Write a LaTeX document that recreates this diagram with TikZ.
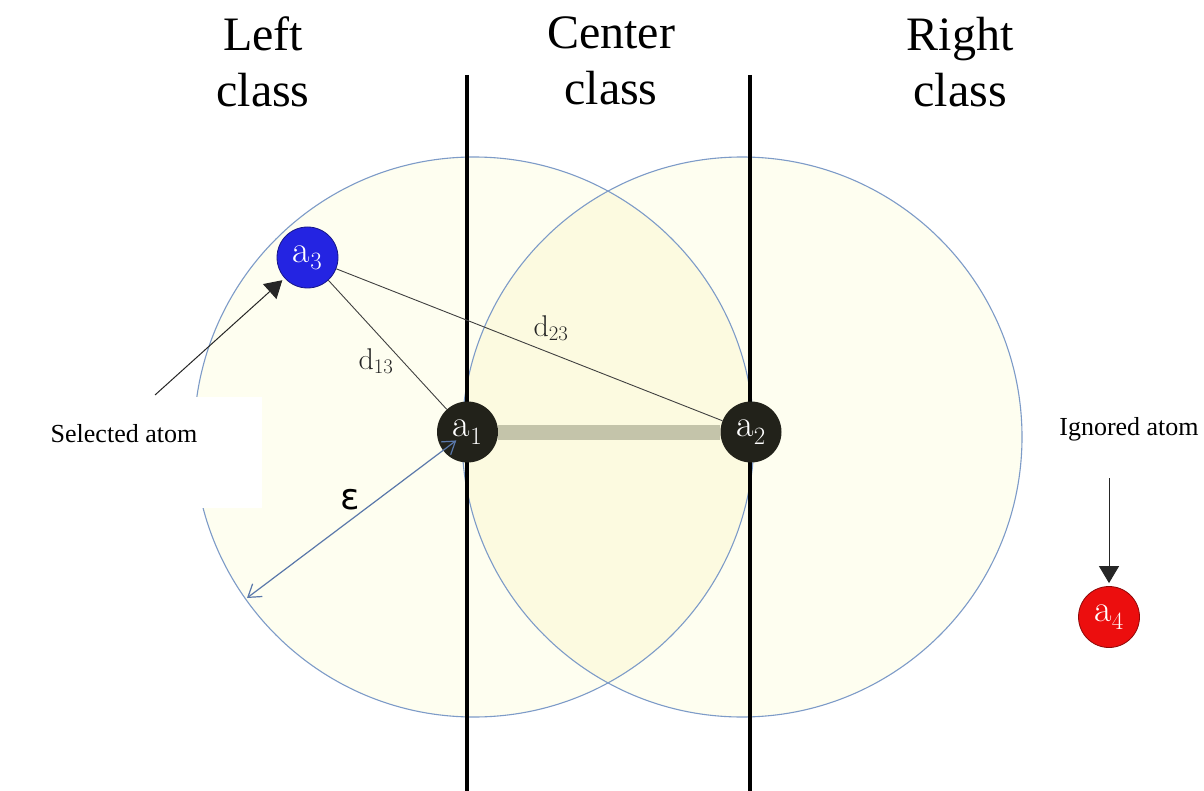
\documentclass[tikz,border=0pt]{standalone}
\usepackage{fontspec}
\usetikzlibrary{arrows.meta,calc}
\newfontfamily\timesf{Liberation Serif}
\newfontfamily\dejavu{DejaVu Sans}
\definecolor{circfill}{RGB}{254,254,240}
\definecolor{lensfill}{RGB}{252,250,224}
\definecolor{circline}{RGB}{125,155,200}
\definecolor{bondcol}{RGB}{196,196,170}
\definecolor{atomdark}{RGB}{34,34,26}
\definecolor{atomblue}{RGB}{36,36,226}
\definecolor{atomred}{RGB}{236,14,14}
\definecolor{epscol}{RGB}{90,120,170}
\begin{document}
\begin{tikzpicture}[x=1pt,y=-1pt,
  atom/.style={circle, minimum size=61pt, inner sep=0pt, text=white, font=\fontsize{38}{38}\selectfont},
  header/.style={font=\timesf\fontsize{48}{56}\selectfont, align=center, anchor=north, inner sep=0pt},
  note/.style={font=\timesf\fontsize{26}{30}\selectfont, anchor=base, inner sep=0pt},
  dist/.style={text=black!85, font=\fontsize{30}{30}\selectfont, inner sep=0pt},
  link/.style={draw=black!75, line width=0.9pt},
  pointer/.style={draw=black!85, line width=1pt, -{Triangle[length=17pt,width=20pt]}, shorten >=3pt},
  divider/.style={line width=3.5pt, black},
  zone/.style={circline, line width=1.1pt},
  bond/.style={bondcol, line width=15pt},
  radiusarrow/.style={epscol, line width=1.2pt, {Straight Barb[length=12pt,width=16pt]}-{Straight Barb[length=12pt,width=16pt]}},
]
\useasboundingbox (0,0) rectangle (1204,791);
\fill[white] (0,0) rectangle (1204,791);
% cutoff spheres
\fill[circfill] (474,437) circle[radius=280pt];
\fill[circfill] (742,437) circle[radius=280pt];
\begin{scope}
  \clip (474,437) circle[radius=280pt];
  \fill[lensfill] (742,437) circle[radius=280pt];
\end{scope}
\draw[zone] (474,437) circle[radius=280pt];
\draw[zone] (742,437) circle[radius=280pt];
% white label box
\node[fill=white, minimum width=225pt, minimum height=111pt, inner sep=0pt] (selbox) at (149.5,452.5) {};
\node[note] (seltext) at (124,442) {Selected atom};
% dividers
\coordinate (d1top) at (467,75);
\coordinate (d1bot) at (467,791);
\coordinate (d2top) at (750,75);
\coordinate (d2bot) at (750,791);
\draw[divider] (d1top) -- (d1bot);
\draw[divider] (d2top) -- (d2bot);
% headers
\node[header] (hleft) at (263,17) {Left\\class};
\node[header] (hcenter) at (611,17) {Center\\class};
\node[header] (hright) at (960,17) {Right\\class};
% atoms
\node[atom, fill=atomdark] (a1) at (467.5,432) {$\mathrm{a}_1$};
\node[atom, fill=atomdark] (a2) at (751,432) {$\mathrm{a}_2$};
\node[atom, fill=atomblue, draw=atomblue!60!black, line width=0.8pt] (a3) at (307.5,257.5) {$\mathrm{a}_3$};
\node[atom, fill=atomred, draw=atomred!60!black, line width=0.8pt] (a4) at (1109,617) {$\mathrm{a}_4$};
% bond and distances
\draw[bond] (a1) -- (a2);
\draw[link] (a3) -- (a1);
\draw[link] (a3) -- (a2);
\node[dist] (d13) at (376,361) {$\mathrm{d}_{13}$};
\node[dist] (d23) at (551,328) {$\mathrm{d}_{23}$};
% epsilon radius
\coordinate (epsend) at (247,598);
\draw[radiusarrow] (epsend) -- ($(a1.center)!14pt!(epsend)$);
\node[font=\dejavu\fontsize{36}{36}\selectfont, inner sep=0pt] (eps) at (350,500) {ε};
% pointers
\coordinate (selstart) at (155,395);
\draw[pointer] (selstart) -- (a3);
\node[note] (ign) at (1129,435) {Ignored atom};
\coordinate (ignstart) at (1109,478);
\draw[pointer] (ignstart) -- (a4);
\end{tikzpicture}
\end{document}
